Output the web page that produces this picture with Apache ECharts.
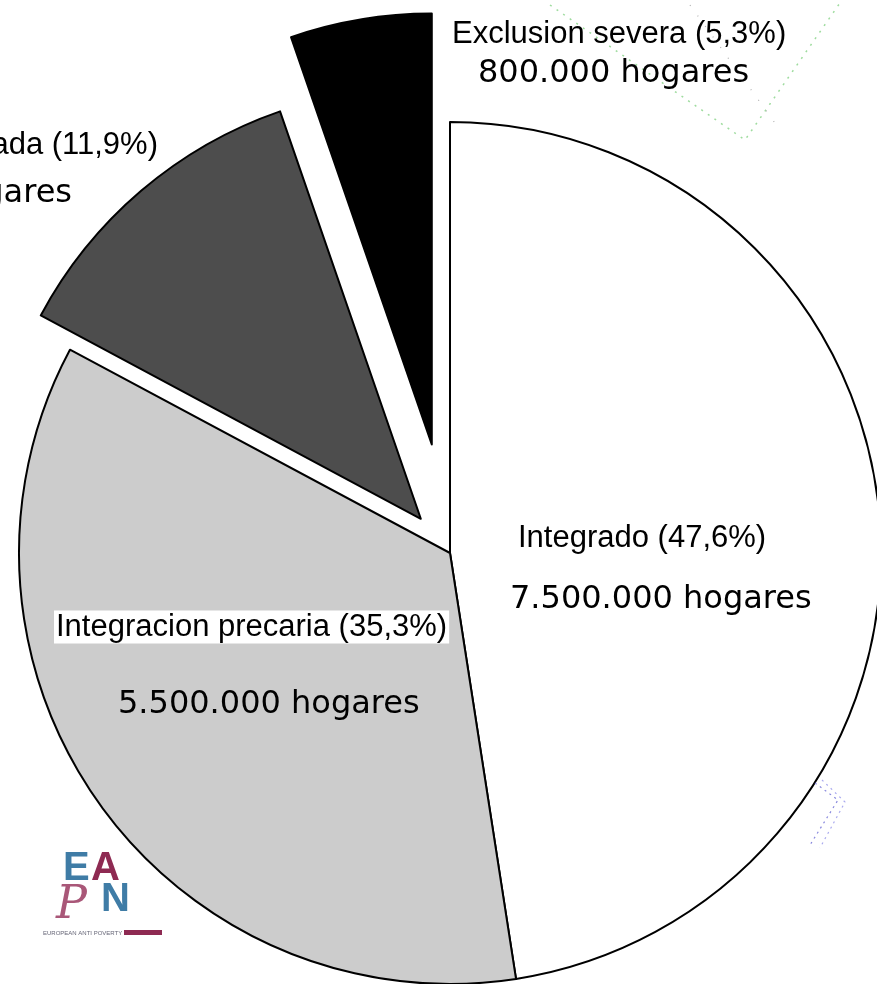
<!DOCTYPE html>
<html>
<head>
<meta charset="utf-8">
<script src="https://cdn.jsdelivr.net/npm/echarts@6/dist/echarts.min.js"></script>
<style>
html,body{margin:0;padding:0;background:#fff;}
#chart{width:877px;height:984px;}
</style>
</head>
<body>
<div id="chart"></div>
<script>
// ---- data ----
const categories = ['Integrado', 'Integracion precaria', 'Exclusion moderada', 'Exclusion severa'];
const shares = [47.6, 35.3, 11.9, 5.3];
const households = ['7.500.000', '5.500.000', '1.900.000', '800.000'];
const unitLabel = 'hogares';

// ---- styles / layout ----
const sliceColors = ['#ffffff', '#cccccc', '#4d4d4d', '#000000'];
const PIE_CENTER = [450, 553];
const PIE_RADIUS = 431;
// slice groups: which slices are drawn by which series, and how far they are pulled out
const groups = [
  { idx: [0, 1], offset: 0 },
  { idx: [2], offset: 45 },
  { idx: [3], offset: 110 }
];
// label anchors [line1 x, line1 y, line1 align, line2 x, line2 y, line2 align]
const labelPos = [
  [518, 538, 'left', 510, 600, 'left'],
  [54, 627, 'left', 118, 705, 'left'],
  [158, 145, 'right', 72, 194, 'right'],
  [452, 34, 'left', 478, 74, 'left']
];
const FONT1 = '31px "Liberation Sans", Arial, sans-serif';
const FONT2 = '32px "DejaVu Sans", Verdana, sans-serif';

function fmtPct(v) { return v.toFixed(1).replace('.', ','); }

function makeSeries(group) {
  const visStyle = i => ({ color: sliceColors[i], borderColor: '#000', borderWidth: 2, opacity: 1 });
  const hidStyle = { color: 'rgba(0,0,0,0)', borderWidth: 0 };
  return {
    type: 'pie',
    center: PIE_CENTER,
    radius: PIE_RADIUS,
    startAngle: 90,
    clockwise: true,
    animation: false,
    selectedMode: group.offset > 0 ? 'multiple' : false,
    selectedOffset: group.offset,
    avoidLabelOverlap: false,
    label: { show: false },
    labelLine: { show: false },
    emphasis: { disabled: true, scale: false },
    data: categories.map((c, i) => {
      const vis = group.idx.includes(i);
      const st = vis ? visStyle(i) : hidStyle;
      return {
        name: c,
        value: shares[i],
        selected: group.offset > 0 && vis,
        itemStyle: st,
        select: { itemStyle: st }
      };
    })
  };
}

const graphics = [];
categories.forEach((c, i) => {
  const p = labelPos[i];
  const line1 = { type: 'text', x: p[0], y: p[1], z: 100,
    style: { text: c + ' (' + fmtPct(shares[i]) + '%)', font: FONT1, fill: '#000',
             textAlign: p[2], textVerticalAlign: 'middle' } };
  if (i === 1) {
    line1.style.backgroundColor = '#ffffff';
    line1.style.padding = [1, 2, 1, 2];
  }
  graphics.push(line1);
  graphics.push({ type: 'text', x: p[3], y: p[4], z: 100,
    style: { text: households[i] + ' ' + unitLabel, font: FONT2, fill: '#000',
             textAlign: p[5], textVerticalAlign: 'middle' } });
});

// decorative dotted marks (scan artefacts)
graphics.push({ type: 'polyline', z: 50, shape: { points: [[550, 5], [745, 140], [842, 0]] },
  style: { stroke: '#9fdc9f', lineWidth: 1.5, lineDash: [2, 6], fill: null } });
graphics.push({ type: 'polyline', z: 50, shape: { points: [[690, 5], [780, 130]] },
  style: { stroke: '#b0b0b0', lineWidth: 1.2, lineDash: [1, 12], fill: null } });
graphics.push({ type: 'polyline', z: 50, shape: { points: [[815, 783], [838, 800], [810, 845]] },
  style: { stroke: '#8888dd', lineWidth: 1.2, lineDash: [2, 4], fill: null } });
graphics.push({ type: 'polyline', z: 50, shape: { points: [[822, 780], [845, 802], [820, 848]] },
  style: { stroke: '#aaaaee', lineWidth: 1.2, lineDash: [2, 4], fill: null } });

// EAPN logo
graphics.push({ type: 'text', x: 63, y: 869, z: 60, style: { text: 'E', font: 'bold 40px "Liberation Sans", Arial, sans-serif', fill: '#3f7ca6', textVerticalAlign: 'middle' } });
graphics.push({ type: 'text', x: 91, y: 869, z: 60, style: { text: 'A', font: 'bold 40px "Liberation Sans", Arial, sans-serif', fill: '#8e2a52', textVerticalAlign: 'middle' } });
graphics.push({ type: 'text', x: 56, y: 906, z: 60, style: { text: 'P', font: 'italic 46px "DejaVu Serif", serif', fill: '#9a3a60', textVerticalAlign: 'middle', opacity: 0.85 } });
graphics.push({ type: 'text', x: 101, y: 900, z: 60, style: { text: 'N', font: 'bold 40px "Liberation Sans", Arial, sans-serif', fill: '#3f7ca6', textVerticalAlign: 'middle' } });
graphics.push({ type: 'text', x: 43, y: 933, z: 60, style: { text: 'EUROPEAN ANTI POVERTY NETWORK', font: '6px "Liberation Sans", Arial, sans-serif', fill: '#667', textVerticalAlign: 'middle' } });
graphics.push({ type: 'rect', z: 60, shape: { x: 124, y: 930, width: 38, height: 5 }, style: { fill: '#8e2a52' } });

const chart = echarts.init(document.getElementById('chart'), null, { renderer: 'canvas' });
chart.setOption({
  backgroundColor: '#ffffff',
  animation: false,
  series: groups.map(makeSeries),
  graphic: graphics
});
</script>
</body>
</html>
